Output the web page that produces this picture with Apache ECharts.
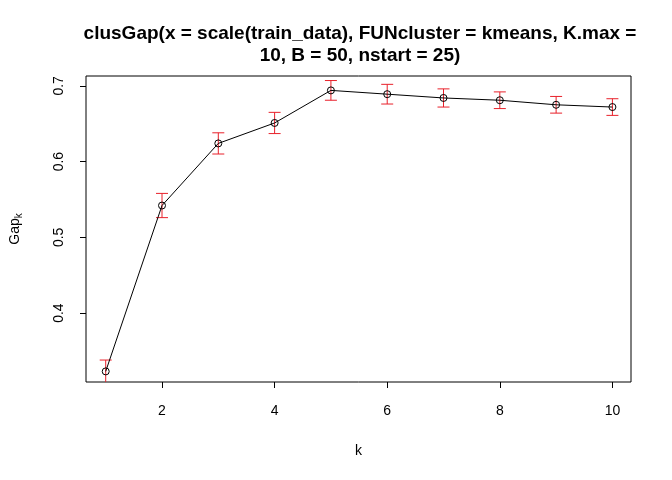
<!DOCTYPE html>
<html>
<head>
<meta charset="utf-8">
<script src="https://cdn.jsdelivr.net/npm/echarts@6/dist/echarts.min.js"></script>
<style>html,body{margin:0;background:#fff}#c{width:672px;height:480px}</style>
</head>
<body>
<div id="c"></div>
<script>
// gap statistic per k
var ks = [1, 2, 3, 4, 5, 6, 7, 8, 9, 10]
var gap = [0.323, 0.542, 0.624, 0.651, 0.694, 0.689, 0.684, 0.681, 0.675, 0.672]
var se = [0.015, 0.016, 0.014, 0.014, 0.013, 0.013, 0.012, 0.011, 0.011, 0.011]
var xTicks = [2, 4, 6, 8, 10]
var yTicks = [0.4, 0.5, 0.6, 0.7]

var chart = echarts.init(document.getElementById('c'))
var font = 'Liberation Sans, Arial, sans-serif'

var errData = ks.map(function (k, i) { return [k, gap[i] - se[i], gap[i] + se[i]] })

chart.setOption({
    animation: false,
    title: {
        text: 'clusGap(x = scale(train_data), FUNcluster = kmeans, K.max =\n10, B = 50, nstart = 25)',
        left: 355, top: 18, textAlign: 'center',
        textStyle: {fontFamily: font, fontSize: 19, fontWeight: 'bold', color: '#000', lineHeight: 22}
    },
    grid: {left: 79, right: 41, top: 76, bottom: 98, show: true, borderColor: '#000', borderWidth: 1},
    xAxis: {
        type: 'value', min: 0.65, max: 10.33,
        name: 'k', nameLocation: 'middle', nameGap: 62,
        nameTextStyle: {fontFamily: font, fontSize: 14, color: '#000'},
        axisLine: {show: false},
        axisTick: {show: true, customValues: xTicks, length: 6, lineStyle: {color: '#000'}},
        axisLabel: {customValues: xTicks, fontFamily: font, fontSize: 14, color: '#000', margin: 22},
        splitLine: {show: false}
    },
    yAxis: {
        type: 'value', min: 0.309, max: 0.713,
        name: '{a|Gap}{b|k}', nameLocation: 'middle', nameGap: 62, nameRotate: 90,
        nameTextStyle: {rich: {
            a: {fontFamily: font, fontSize: 14, color: '#000'},
            b: {fontFamily: font, fontSize: 10, color: '#000', verticalAlign: 'bottom', padding: [8, 0, 0, 0]}
        }},
        axisLine: {show: false},
        axisTick: {show: true, customValues: yTicks, length: 6, lineStyle: {color: '#000'}},
        axisLabel: {customValues: yTicks, rotate: 90, fontFamily: font, fontSize: 14, color: '#000', margin: 20,
            formatter: function (v) { return v.toFixed(1) }},
        splitLine: {show: false}
    },
    series: [
        {
            type: 'line', data: ks.map(function (k, i) { return [k, gap[i]] }),
            symbol: 'circle', symbolSize: 7,
            lineStyle: {color: '#000', width: 1},
            itemStyle: {color: 'rgba(255,255,255,0)', borderColor: '#000', borderWidth: 1},
            z: 3
        },
        {
            type: 'custom', data: errData, clip: true, z: 2,
            renderItem: function (params, api) {
                var lo = api.coord([api.value(0), api.value(1)])
                var hi = api.coord([api.value(0), api.value(2)])
                var w = 6
                var st = {stroke: '#e8202a', lineWidth: 1}
                return {type: 'group', children: [
                    {type: 'line', shape: {x1: lo[0], y1: lo[1], x2: hi[0], y2: hi[1]}, style: st},
                    {type: 'line', shape: {x1: lo[0] - w, y1: lo[1], x2: lo[0] + w, y2: lo[1]}, style: st},
                    {type: 'line', shape: {x1: hi[0] - w, y1: hi[1], x2: hi[0] + w, y2: hi[1]}, style: st}
                ]}
            }
        }
    ]
})
</script>
</body>
</html>
